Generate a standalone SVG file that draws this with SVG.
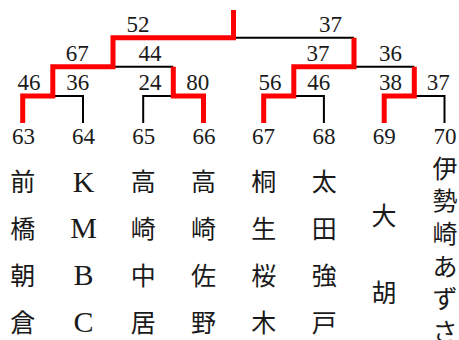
<svg xmlns="http://www.w3.org/2000/svg" width="459" height="340" viewBox="0 0 459 340">
<style>
.blk{fill:none;stroke:#000;stroke-width:2;stroke-linejoin:miter}
.red{fill:none;stroke:#ff0000;stroke-width:5;stroke-linejoin:miter;stroke-linecap:butt}
.sc{font-family:"Liberation Serif","DejaVu Serif",serif;font-size:23px;fill:#1a1a1a;text-anchor:middle}
.num{font-family:"Liberation Serif","DejaVu Serif",serif;font-size:23px;fill:#1a1a1a;text-anchor:middle}
.cj{font-family:"Noto Sans CJK JP","Noto Sans CJK SC",sans-serif;font-size:25px;fill:#1a1a1a;text-anchor:middle}
.lt{font-family:"Liberation Serif","DejaVu Serif",serif;font-size:30px;fill:#1a1a1a;text-anchor:middle}
</style>
<rect width="459" height="340" fill="#fff"/>
<g id="connectors">
  <path class="blk" d="M52.8,96 H83 V123"/>
  <path class="blk" d="M143.2,123 V96 H173.3"/>
  <path class="blk" d="M113,66.7 H173.3"/>
  <path class="blk" d="M233.5,37.7 H354"/>
  <path class="blk" d="M293.8,96 H323.9 V123"/>
  <path class="blk" d="M354,66.7 H414.3"/>
  <path class="blk" d="M414.3,96 H444.5 V123"/>
  <path class="red" d="M22.7,123 V96 H52.8 V66.7 H113 V37.7 H233.5 V10"/>
  <path class="red" d="M203.5,123 V96 H173.3 V66.7"/>
  <path class="red" d="M263.7,123 V96 H293.8 V66.7 H354 V37.7"/>
  <path class="red" d="M384.2,123 V96 H414.3 V66.7"/>
  <g id="scores">
    <text class="sc" x="138" y="31.7">52</text>
    <text class="sc" x="330.5" y="31.7">37</text>
    <text class="sc" x="77.3" y="61">67</text>
    <text class="sc" x="150" y="61">44</text>
    <text class="sc" x="318" y="61">37</text>
    <text class="sc" x="390.5" y="61">36</text>
    <text class="sc" x="29" y="90">46</text>
    <text class="sc" x="77.7" y="90">36</text>
    <text class="sc" x="150" y="90">24</text>
    <text class="sc" x="197.7" y="90">80</text>
    <text class="sc" x="270" y="90">56</text>
    <text class="sc" x="318.7" y="90">46</text>
    <text class="sc" x="390.5" y="90">38</text>
    <text class="sc" x="438.3" y="90">37</text>
  </g>
</g>
<g id="team63">
  <text class="num" x="23.5" y="144.3">63</text>
  <text class="cj" x="22.7" y="191.3">前</text>
  <text class="cj" x="22.7" y="238.1">橋</text>
  <text class="cj" x="22.7" y="284.9">朝</text>
  <text class="cj" x="22.7" y="331.7">倉</text>
</g>
<g id="team64">
  <text class="num" x="83.5" y="144.3">64</text>
  <text class="lt" x="83.5" y="191.5">K</text>
  <text class="lt" x="83.5" y="238.3">M</text>
  <text class="lt" x="83.5" y="285.1">B</text>
  <text class="lt" x="83.5" y="331.9">C</text>
</g>
<g id="team65">
  <text class="num" x="143.7" y="144.3">65</text>
  <text class="cj" x="143.3" y="191.3">高</text>
  <text class="cj" x="143.3" y="238.1">崎</text>
  <text class="cj" x="143.3" y="284.9">中</text>
  <text class="cj" x="143.3" y="331.7">居</text>
</g>
<g id="team66">
  <text class="num" x="204" y="144.3">66</text>
  <text class="cj" x="203.5" y="191.3">高</text>
  <text class="cj" x="203.5" y="238.1">崎</text>
  <text class="cj" x="203.5" y="284.9">佐</text>
  <text class="cj" x="203.5" y="331.7">野</text>
</g>
<g id="team67">
  <text class="num" x="263.5" y="144.3">67</text>
  <text class="cj" x="263.8" y="191.3">桐</text>
  <text class="cj" x="263.8" y="238.1">生</text>
  <text class="cj" x="263.8" y="284.9">桜</text>
  <text class="cj" x="263.8" y="331.7">木</text>
</g>
<g id="team68">
  <text class="num" x="324" y="144.3">68</text>
  <text class="cj" x="324.2" y="191.3">太</text>
  <text class="cj" x="324.2" y="238.1">田</text>
  <text class="cj" x="324.2" y="284.9">強</text>
  <text class="cj" x="324.2" y="331.7">戸</text>
</g>
<g id="team69">
  <text class="num" x="384.2" y="144.3">69</text>
  <text class="cj" x="384" y="225">大</text>
  <text class="cj" x="384" y="301.7">胡</text>
</g>
<g id="team70">
  <text class="num" x="445" y="144.3">70</text>
  <text class="cj" x="445" y="177.5">伊</text>
  <text class="cj" x="445" y="210.2">勢</text>
  <text class="cj" x="445" y="242.9">崎</text>
  <text class="cj" x="445" y="275.6">あ</text>
  <text class="cj" x="445" y="308.3">ず</text>
  <text class="cj" x="445" y="341">さ</text>
</g>
</svg>
